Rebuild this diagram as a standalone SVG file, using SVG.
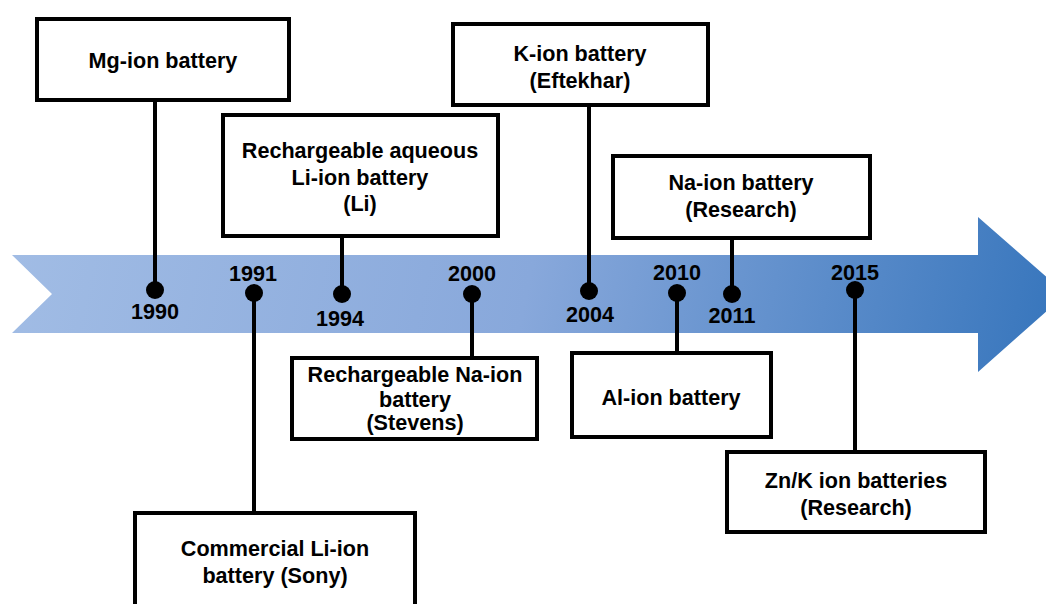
<svg xmlns="http://www.w3.org/2000/svg" width="1046" height="604" viewBox="0 0 1046 604">
<defs>
<linearGradient id="band" gradientUnits="userSpaceOnUse" x1="0" y1="200" x2="1046" y2="420">
<stop offset="0" stop-color="#A2BDE5"/>
<stop offset="0.5" stop-color="#88A8DB"/>
<stop offset="1" stop-color="#3675BC"/>
</linearGradient>
<style>
.box{fill:#fff;stroke:#000;stroke-width:4}
.stem{stroke:#000;stroke-width:4;fill:none}
.dot{fill:#000}
text{font-family:"Liberation Sans",Arial,sans-serif;font-weight:bold;font-size:21.6px;fill:#000;text-anchor:middle}
</style>
</defs>
<rect width="1046" height="604" fill="#fff"/>
<polygon id="timeline" points="12,255 978,255 978,217 1066,294 978,372 978,333 12,333 52,294" fill="url(#band)"/>
<g id="connectors">
<line class="stem" x1="155" y1="100" x2="155" y2="290"/>
<line class="stem" x1="254" y1="293" x2="254" y2="513"/>
<line class="stem" x1="342" y1="236" x2="342" y2="294"/>
<line class="stem" x1="472" y1="294" x2="472" y2="358"/>
<line class="stem" x1="589" y1="105" x2="589" y2="291"/>
<line class="stem" x1="677" y1="293" x2="677" y2="353"/>
<line class="stem" x1="732" y1="238" x2="732" y2="294"/>
<line class="stem" x1="855" y1="290" x2="855" y2="452"/>
</g>
<g id="year-1990"><circle class="dot" cx="155" cy="290" r="9"/><text x="155" y="319">1990</text></g>
<g id="year-1991"><circle class="dot" cx="254" cy="293" r="9"/><text x="253" y="281">1991</text></g>
<g id="year-1994"><circle class="dot" cx="342" cy="294" r="9"/><text x="340" y="326">1994</text></g>
<g id="year-2000"><circle class="dot" cx="472" cy="294" r="9"/><text x="472" y="281">2000</text></g>
<g id="year-2004"><circle class="dot" cx="589" cy="291" r="9"/><text x="590" y="322">2004</text></g>
<g id="year-2010"><circle class="dot" cx="677" cy="293" r="9"/><text x="677" y="280">2010</text></g>
<g id="year-2011"><circle class="dot" cx="732" cy="294" r="9"/><text x="732" y="323">2011</text></g>
<g id="year-2015"><circle class="dot" cx="855" cy="290" r="9"/><text x="855" y="280">2015</text></g>
<g id="node-mg"><rect class="box" x="37" y="19" width="252" height="81"/><text x="163" y="68">Mg-ion battery</text></g>
<g id="node-aqueous"><rect class="box" x="223" y="115" width="275" height="121"/><text x="360" y="158">Rechargeable aqueous</text><text x="360" y="185">Li-ion battery</text><text x="360" y="211">(Li)</text></g>
<g id="node-k"><rect class="box" x="453" y="24" width="255" height="81"/><text x="580" y="61">K-ion battery</text><text x="580" y="88">(Eftekhar)</text></g>
<g id="node-na-research"><rect class="box" x="613" y="156" width="257" height="82"/><text x="741" y="190">Na-ion battery</text><text x="741" y="217">(Research)</text></g>
<g id="node-sony"><rect class="box" x="135" y="513" width="280" height="100"/><text x="275" y="556">Commercial Li-ion</text><text x="275" y="583">battery (Sony)</text></g>
<g id="node-stevens"><rect class="box" x="292" y="358" width="245" height="81"/><text x="415" y="382">Rechargeable Na-ion</text><text x="415" y="407">battery</text><text x="415" y="430">(Stevens)</text></g>
<g id="node-al"><rect class="box" x="572" y="353" width="199" height="84"/><text x="671" y="405">Al-ion battery</text></g>
<g id="node-znk"><rect class="box" x="727" y="452" width="258" height="80"/><text x="856" y="488">Zn/K ion batteries</text><text x="856" y="515">(Research)</text></g>
</svg>
